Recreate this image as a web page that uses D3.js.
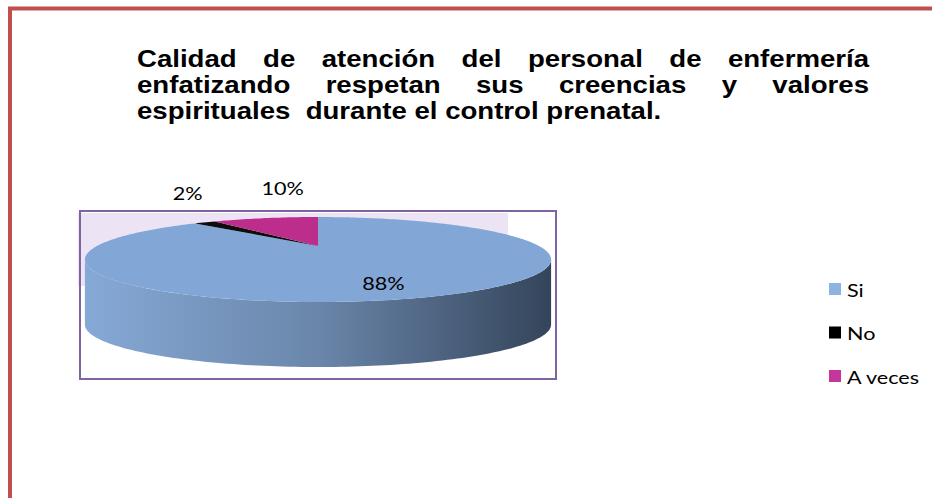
<!DOCTYPE html>
<html>
<head>
<meta charset="utf-8">
<script src="https://cdn.jsdelivr.net/npm/d3@7"></script>
<style>
  body { margin: 0; background: #fff; }
  svg { display: block; }
</style>
</head>
<body>
<div id="chart"></div>
<script>
// Data
var categories = ["Si", "No", "A veces"];
var values = [88, 2, 10];
var labels = ["88%", "2%", "10%"];
var titleLines = [
    "Calidad de atención del personal de enfermería",
    "enfatizando respetan sus creencias y valores",
    "espirituales  durante el control prenatal."
];

var svgWidth = 932;
var svgHeight = 498;

var topColors = ["#82a6d5", "#0d0d0d", "#bd2e8c"];
var legendColors = ["#8db3e2", "#000000", "#c6359b"];

// the original picture is stretched sideways a bit
var stretch = 1.2;

var svg = d3.select("#chart")
    .append("svg")
    .attr("width", svgWidth)
    .attr("height", svgHeight);

// red frame (top and left edges only visible)
svg.append("path")
    .attr("d", "M10,498 L10,8.5 L932,8.5")
    .attr("fill", "none")
    .attr("stroke", "#c0504d")
    .attr("stroke-width", 4);

// Title, justified lines
var titleX0 = 137, titleX1 = 869, titleY = 67, lineH = 26;
var title = svg.append("g")
    .attr("transform", `translate(${titleX0}, 0) scale(${stretch}, 1)`)
    .style("font-family", "'Liberation Sans', Arial, sans-serif")
    .style("font-weight", "bold")
    .style("font-size", "23px")
    .attr("fill", "#000");
var titleW = (titleX1 - titleX0) / stretch;

titleLines.forEach((line, i) => {
    var y = titleY + i * lineH;
    if (i === titleLines.length - 1) {
        title.append("text").attr("x", 0).attr("y", y)
            .attr("xml:space", "preserve").style("white-space", "pre").text(line);
        return;
    }
    var words = line.split(" ");
    var nodes = words.map(w => title.append("text").attr("y", y).text(w));
    var total = d3.sum(nodes, n => n.node().getComputedTextLength());
    var gap = (titleW - total) / (words.length - 1);
    var x = 0;
    nodes.forEach(n => {
        n.attr("x", x);
        x += n.node().getComputedTextLength() + gap;
    });
});

// Plot area decorations
var plot = { x: 80, y: 211, w: 476, h: 168 };
svg.append("rect")
    .attr("x", plot.x - 2).attr("y", plot.y + 2)
    .attr("width", 430).attr("height", 73)
    .attr("fill", "#ece4f4");

// 3D pie with a little perspective
var cx = 318, cy = 246, rx = 221, ry = 38.2, persp = 0.318, depth = 65;

function proj(theta, r) {
    r = r === undefined ? 1 : r;
    var s = 1 / (1 + persp * r * Math.cos(theta));
    return [cx + rx * r * Math.sin(theta) * s, cy - ry * r * Math.cos(theta) * s];
}

function rimPoints(a0, a1, dy) {
    var n = Math.max(2, Math.ceil((a1 - a0) / 0.02));
    return d3.range(n + 1).map(i => {
        var p = proj(a0 + (a1 - a0) * i / n);
        return [p[0], p[1] + (dy || 0)];
    });
}

var pie = d3.pie().sort(null).value(d => d)(values);

var defs = svg.append("defs");
var sideGrad = defs.append("linearGradient")
    .attr("id", "sideGrad")
    .attr("gradientUnits", "userSpaceOnUse")
    .attr("x1", cx - rx * 1.06).attr("x2", cx + rx * 1.06)
    .attr("y1", 0).attr("y2", 0);
sideGrad.selectAll("stop")
    .data([["0", "#86a9d6"], ["0.5", "#6a86aa"], ["1", "#34445a"]])
    .join("stop")
    .attr("offset", d => d[0])
    .attr("stop-color", d => d[1]);

var line = d3.line();

// visible front side runs between the two silhouette tangents
var tR = Math.acos(-persp), tL = 2 * Math.PI - Math.acos(-persp);
var sideGroup = svg.append("g");
pie.forEach((d, i) => {
    var a0 = Math.max(d.startAngle, tR), a1 = Math.min(d.endAngle, tL);
    if (a1 <= a0) return;
    var top = rimPoints(a0, a1, 0);
    var bottom = rimPoints(a0, a1, depth).reverse();
    sideGroup.append("path")
        .attr("d", line(top.concat(bottom)) + "Z")
        .attr("fill", i === 0 ? "url(#sideGrad)" : d3.color(topColors[i]).darker(1));
});

var topGroup = svg.append("g");
pie.forEach((d, i) => {
    var pts = [[cx, cy]].concat(rimPoints(d.startAngle, d.endAngle, 0));
    topGroup.append("path")
        .attr("d", line(pts) + "Z")
        .attr("fill", topColors[i]);
});

svg.append("rect")
    .attr("x", plot.x).attr("y", plot.y)
    .attr("width", plot.w).attr("height", plot.h)
    .attr("fill", "none")
    .attr("stroke", "#8064a2")
    .attr("stroke-width", 2);

// data labels: big slice inside, small slices above the rim, pushed apart
var labelFont = "Lato, 'Open Sans', sans-serif";
var labelPos = pie.map((d, i) => {
    var m = (d.startAngle + d.endAngle) / 2;
    if (i === 0) {
        var p = proj(m, 0.65);
        return { x: p[0], y: p[1] + 8, outside: false };
    }
    var q = proj(m);
    return { x: q[0], y: q[1] - 30, outside: true };
});
var outside = labelPos.filter(p => p.outside).sort((a, b) => a.x - b.x);
var minGap = 95;
for (var k = 1; k < outside.length; k++) {
    var gap = outside[k].x - outside[k - 1].x;
    if (gap < minGap) {
        outside[k - 1].x -= (minGap - gap) / 2;
        outside[k].x += (minGap - gap) / 2;
    }
}

svg.append("g").selectAll("text")
    .data(pie)
    .join("text")
    .attr("transform", (d, i) => `translate(${labelPos[i].x}, ${labelPos[i].y}) scale(${stretch}, 1)`)
    .attr("text-anchor", "middle")
    .attr("dominant-baseline", "central")
    .style("font-family", labelFont)
    .style("font-size", "18px")
    .attr("fill", "#000")
    .text((d, i) => labels[i]);

// legend
var legend = svg.append("g").attr("transform", "translate(829, 283)");
var legendItems = legend.selectAll("g")
    .data(categories)
    .join("g")
    .attr("transform", (d, i) => `translate(0, ${i * 43.5})`);
legendItems.append("rect")
    .attr("width", 12).attr("height", 12)
    .attr("fill", (d, i) => legendColors[i]);
legendItems.append("text")
    .attr("transform", `translate(18, 6.5) scale(${stretch}, 1)`)
    .attr("dominant-baseline", "central")
    .style("font-family", labelFont)
    .style("font-size", "18px")
    .attr("fill", "#000")
    .text(d => d);
</script>
</body>
</html>
